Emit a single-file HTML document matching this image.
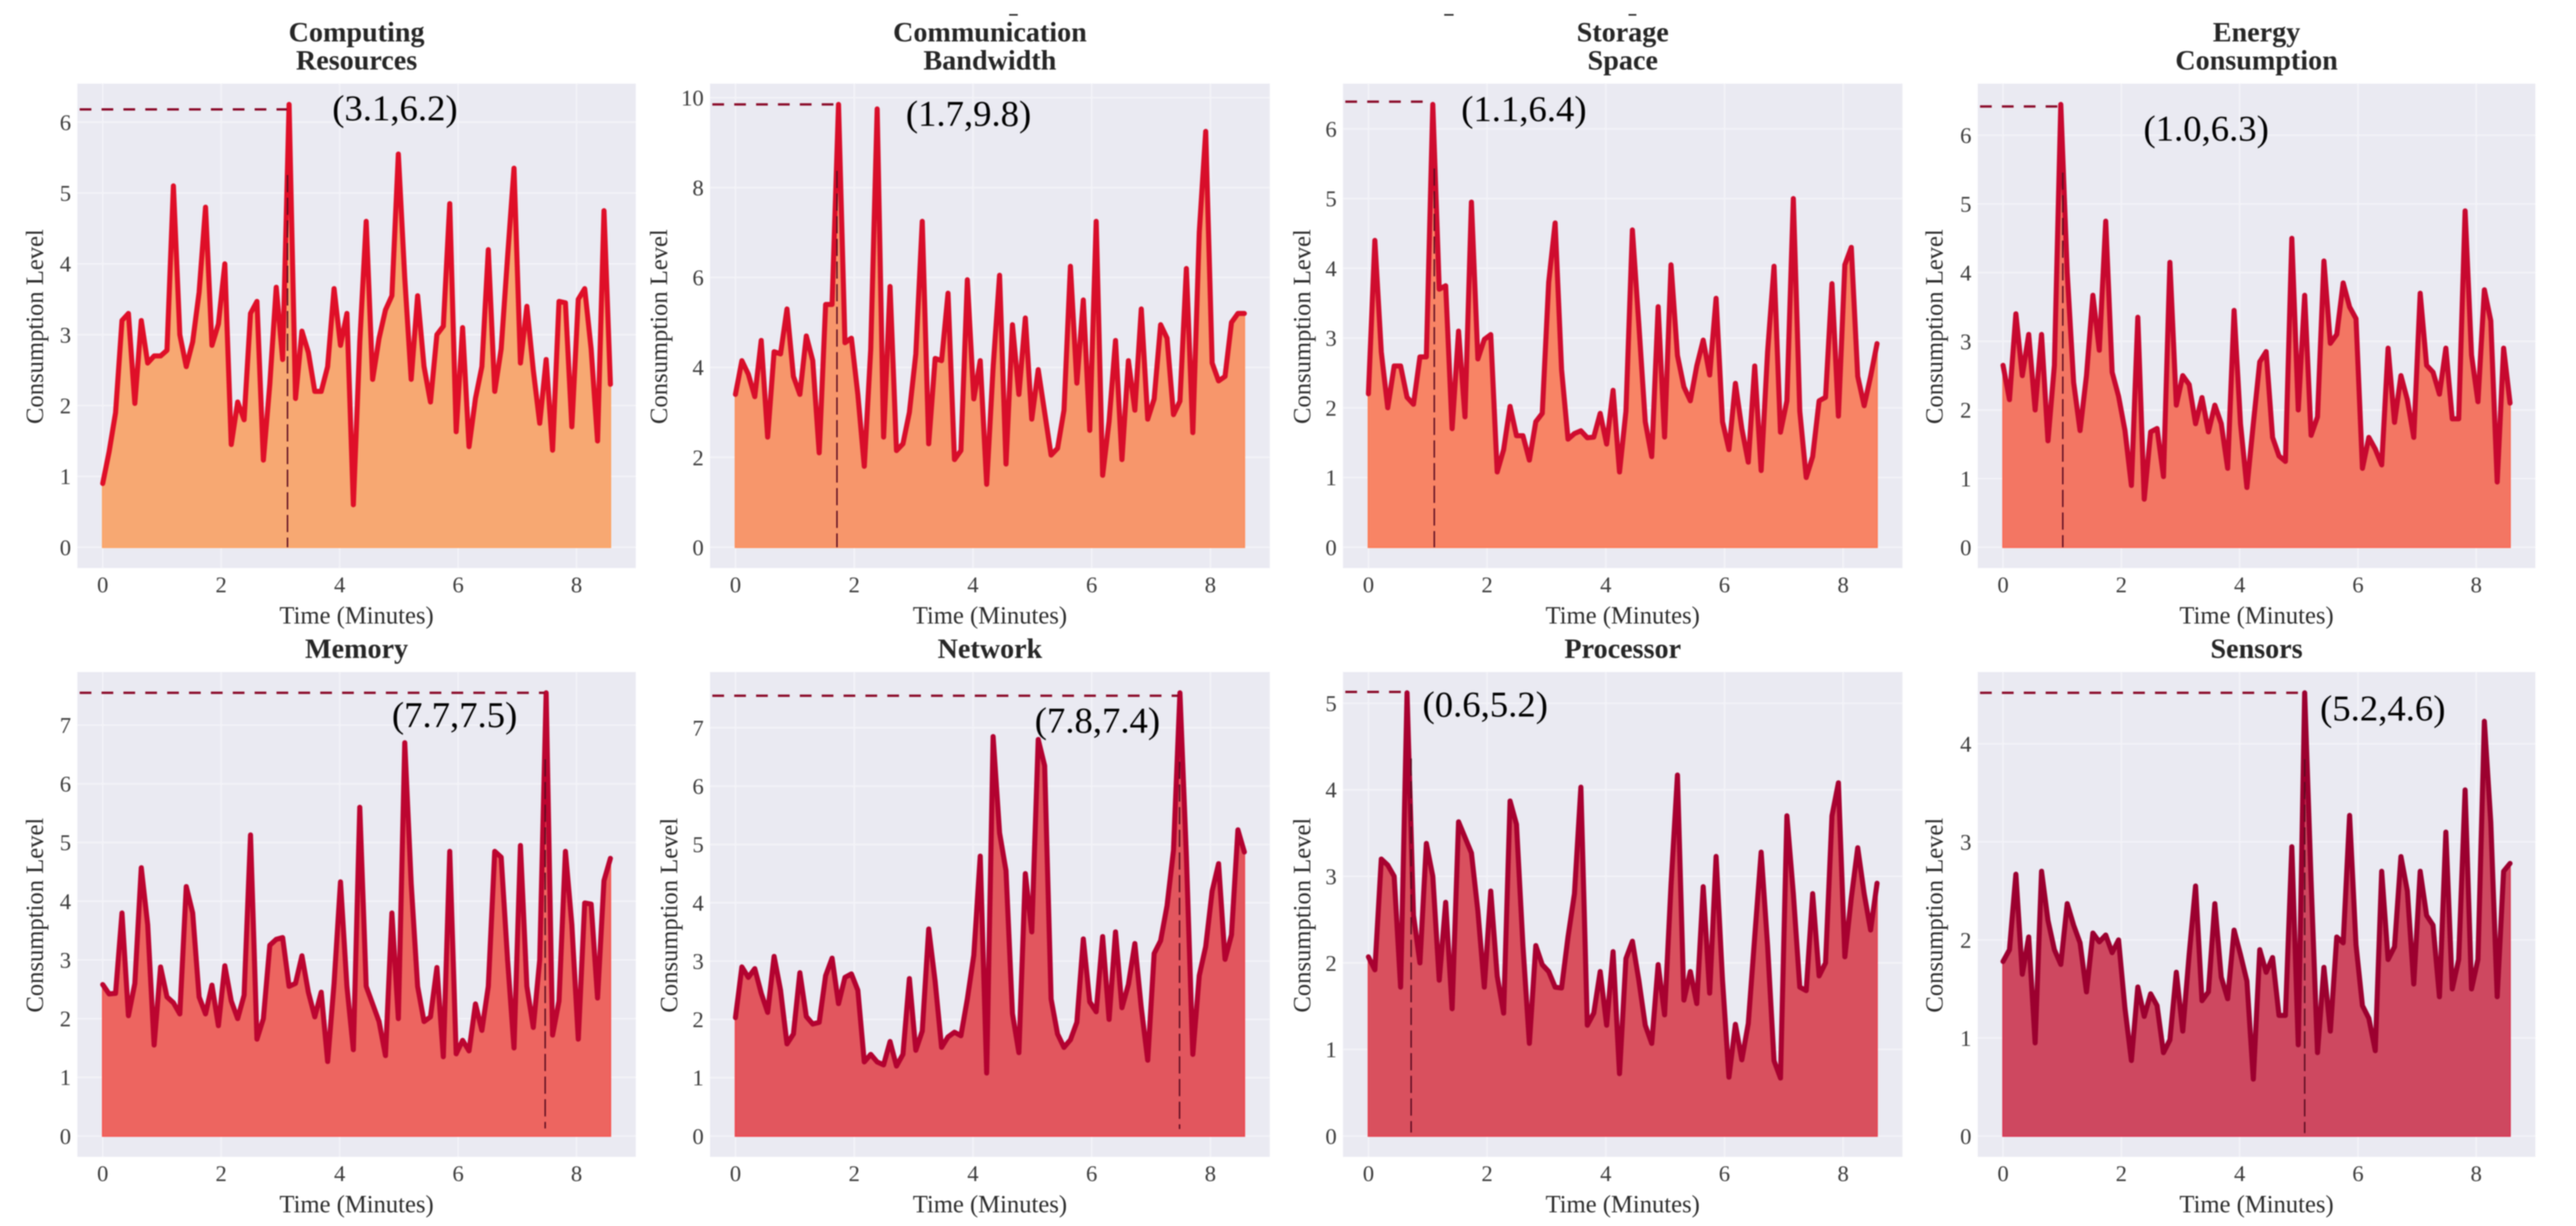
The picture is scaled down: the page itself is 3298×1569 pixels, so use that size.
<!DOCTYPE html>
<html lang="en">
<head>
<meta charset="utf-8">
<title>Resource Consumption Over Time</title>
<style>
  html, body { margin: 0; padding: 0; background: #ffffff; }
  #figure { display: block; width: 3298px; height: 1569px; filter: blur(0.8px); }
  text { font-family: "Liberation Serif", serif; }
</style>
</head>
<body>
<svg id="figure" xmlns="http://www.w3.org/2000/svg" width="3298" height="1569" viewBox="0 0 3298 1569">
  <rect x="0" y="0" width="3298" height="1569" fill="#ffffff"/>
  <rect x="1292" y="18" width="11" height="2" fill="#222"/>
  <rect x="1849" y="18" width="12" height="2" fill="#222"/>
  <rect x="2085" y="18" width="10" height="2" fill="#222"/>
</svg>
<script>
// ---- chart data ----
const sampleSpacingMinutes = 0.1085;
const timeTicks = [0, 2, 4, 6, 8];

const computingValues = [0.9,1.35,1.9,3.2,3.3,2.03,3.2,2.6,2.7,2.7,2.78,5.1,3.0,2.55,2.9,3.6,4.8,2.85,3.15,4.0,1.45,2.05,1.8,3.3,3.47,1.23,2.3,3.67,2.65,6.25,2.1,3.05,2.75,2.2,2.2,2.55,3.65,2.85,3.3,0.6,2.9,4.6,2.37,2.95,3.35,3.55,5.55,3.8,2.37,3.55,2.55,2.05,3.0,3.12,4.85,1.63,3.1,1.42,2.1,2.55,4.2,2.2,2.8,4.1,5.35,2.6,3.4,2.5,1.75,2.65,1.37,3.47,3.45,1.7,3.5,3.65,2.8,1.5,4.75,2.3];
const bandwidthValues = [3.4,4.15,3.85,3.35,4.6,2.45,4.35,4.3,5.3,3.8,3.4,4.7,4.15,2.1,5.4,5.4,9.85,4.55,4.65,3.4,1.8,4.4,9.75,2.45,5.8,2.15,2.3,3.0,4.3,7.25,2.3,4.2,4.15,5.65,1.95,2.15,5.95,3.3,4.15,1.4,4.0,6.05,1.85,4.95,3.4,5.1,2.85,3.95,3.0,2.05,2.2,3.05,6.25,3.65,5.5,2.6,7.25,1.6,2.8,4.6,1.95,4.15,3.05,5.3,2.85,3.3,4.95,4.65,2.95,3.25,6.2,2.55,7.0,9.25,4.1,3.7,3.8,5.0,5.2,5.2];
const storageValues = [2.2,4.4,2.8,2.0,2.6,2.6,2.15,2.05,2.73,2.73,6.35,3.7,3.75,1.7,3.1,1.87,4.95,2.7,2.98,3.05,1.08,1.4,2.02,1.6,1.6,1.25,1.8,1.92,3.8,4.65,2.55,1.55,1.63,1.67,1.57,1.58,1.92,1.48,2.25,1.08,1.95,4.55,3.2,1.8,1.3,3.45,1.58,4.05,2.75,2.3,2.1,2.6,2.97,2.47,3.57,1.8,1.4,2.35,1.7,1.22,2.6,1.1,2.8,4.03,1.65,2.1,5.0,1.95,1.0,1.3,2.1,2.15,3.78,1.88,4.05,4.3,2.45,2.03,2.45,2.92];
const energyValues = [2.65,2.15,3.4,2.5,3.1,2.0,3.1,1.55,2.65,6.45,4.0,2.4,1.7,2.5,3.67,2.87,4.75,2.55,2.2,1.7,0.9,3.35,0.7,1.68,1.73,1.03,4.15,2.07,2.5,2.37,1.8,2.18,1.68,2.07,1.8,1.15,3.45,1.8,0.87,1.8,2.7,2.85,1.6,1.33,1.25,4.5,2.0,3.67,1.63,1.9,4.17,2.97,3.1,3.85,3.5,3.33,1.15,1.6,1.43,1.2,2.9,1.82,2.5,2.15,1.6,3.7,2.65,2.55,2.23,2.9,1.87,1.87,4.9,2.8,2.12,3.75,3.3,0.95,2.9,2.1];
const memoryValues = [2.58,2.42,2.43,3.8,2.05,2.6,4.57,3.6,1.55,2.88,2.37,2.27,2.08,4.25,3.8,2.37,2.08,2.57,1.88,2.9,2.3,2.0,2.4,5.13,1.65,2.0,3.25,3.35,3.38,2.55,2.6,3.07,2.45,2.03,2.45,1.27,2.6,4.33,2.55,1.47,5.6,2.55,2.25,1.95,1.37,3.8,2.0,6.7,4.3,2.55,1.95,2.03,2.87,1.35,4.85,1.4,1.63,1.45,2.25,1.8,2.55,4.85,4.75,3.0,1.5,4.95,2.55,1.85,3.0,7.55,1.72,2.3,4.85,3.6,1.65,3.97,3.95,2.35,4.35,4.73];
const networkValues = [2.03,2.9,2.72,2.87,2.45,2.12,3.08,2.5,1.58,1.75,2.8,2.05,1.92,1.95,2.75,3.05,2.27,2.72,2.78,2.5,1.27,1.4,1.27,1.22,1.62,1.2,1.4,2.7,1.47,1.8,3.55,2.65,1.52,1.7,1.78,1.72,2.35,3.1,4.8,1.08,6.85,5.2,4.55,2.1,1.43,4.5,3.5,6.8,6.35,2.35,1.75,1.52,1.65,1.95,3.38,2.3,2.13,3.42,2.0,3.5,2.2,2.6,3.3,2.2,1.3,3.13,3.35,3.95,4.9,7.6,4.8,1.4,2.75,3.25,4.2,4.67,3.03,3.45,5.25,4.87];
const processorValues = [2.07,1.92,3.2,3.13,3.0,1.72,5.12,2.55,2.0,3.38,3.0,1.8,2.7,1.47,3.63,3.45,3.27,2.6,1.72,2.83,1.85,1.42,3.87,3.6,2.2,1.07,2.2,1.98,1.9,1.72,1.71,2.3,2.8,4.03,1.28,1.42,1.9,1.28,2.13,0.72,2.05,2.25,1.8,1.28,1.07,1.98,1.4,2.9,4.17,1.57,1.9,1.53,2.88,1.65,3.23,1.8,0.68,1.29,0.88,1.3,2.3,3.28,2.2,0.87,0.67,3.7,2.8,1.72,1.68,2.8,1.85,2.0,3.7,4.08,2.07,2.75,3.33,2.8,2.38,2.92];
const sensorValues = [1.78,1.9,2.67,1.65,2.03,0.95,2.7,2.2,1.9,1.75,2.37,2.15,1.97,1.47,2.07,1.98,2.05,1.87,2.0,1.3,0.77,1.52,1.22,1.45,1.33,0.85,0.98,1.67,1.07,1.85,2.55,1.38,1.47,2.37,1.62,1.4,2.1,1.85,1.58,0.58,1.9,1.67,1.82,1.23,1.23,2.95,0.93,4.52,2.6,0.85,1.72,1.07,2.03,1.97,3.27,1.95,1.33,1.2,0.87,2.7,1.8,1.93,2.85,2.5,1.55,2.7,2.25,2.15,1.42,3.1,1.5,1.8,3.53,1.5,1.8,4.23,3.2,1.42,2.7,2.78];

const panelTitles = [["Computing","Resources"],["Communication","Bandwidth"],["Storage","Space"],["Energy","Consumption"],["Memory"],["Network"],["Processor"],["Sensors"]];
const panelSeries = [computingValues,bandwidthValues,storageValues,energyValues,memoryValues,networkValues,processorValues,sensorValues];
const consumptionTicks = [[0,1,2,3,4,5,6],[0,2,4,6,8,10],[0,1,2,3,4,5,6],[0,1,2,3,4,5,6],[0,1,2,3,4,5,6,7],[0,1,2,3,4,5,6,7],[0,1,2,3,4,5],[0,1,2,3,4]];
const peakLabels = ["(3.1,6.2)","(1.7,9.8)","(1.1,6.4)","(1.0,6.3)","(7.7,7.5)","(7.8,7.4)","(0.6,5.2)","(5.2,4.6)"];
const peakGuideTimes = [3.12,1.71,1.11,1.01,7.47,7.48,0.72,5.1];
const peakGuideLevels = [6.18,9.85,6.39,6.42,7.55,7.55,5.13,4.52];
const peakGuideEndTimes = [3.11,1.675,0.99,0.94,7.46,7.46,0.63,5.06];
const peakGuideFloors = [0,0,0,0,0.13,0.12,0.04,0.03];

// ---- layout and style (not data) ----
const plotLefts = [99,909,1719.4,2532,99,909,1719.4,2532];
const plotRights = [814,1625.7,2435.7,3246,814,1625.7,2435.7,3246];
const rowTops = [107,107,107,107,860,860,860,860];
const rowBottoms = [727,727,727,727,1480.5,1480.5,1480.5,1480.5];
const yTitleGaps = [55,66,53,56,55,53,53,56];
const fillColors = ["#f7a872","#f7966b","#f88465","#f37663","#ed6560","#e2565e","#d9505e","#ce4860"];
const edgeColors = ["#fba568","#fb9160","#fb7c58","#f96c58","#f45a55","#ec4a52","#e34553","#d83a56"];
const lineColors = ["#df0f28","#d80e2a","#cf0c2e","#c7082f","#bc0530","#b30230","#a80130","#9c002f"];
const labelCentersX = [505.6,1240,1951,2824.5,582,1405,1901.5,3050.6];
const labelBaselines = [154,161,155,180,930.6,937.5,917,922];
const yMargin = 0.047;

const SVG_NS = "http://www.w3.org/2000/svg";
const figure = document.getElementById("figure");

function make(tag, attrs, parent, content) {
  const el = document.createElementNS(SVG_NS, tag);
  for (const key in attrs) el.setAttribute(key, attrs[key]);
  if (content !== undefined) el.textContent = content;
  parent.appendChild(el);
  return el;
}

function linearScale(domainMin, domainMax, rangeMin, rangeMax) {
  return function (v) {
    return rangeMin + (v - domainMin) / (domainMax - domainMin) * (rangeMax - rangeMin);
  };
}

panelSeries.forEach(function (values, p) {
  const left = plotLefts[p], right = plotRights[p], top = rowTops[p], bottom = rowBottoms[p];
  const times = values.map(function (_, i) { return i * sampleSpacingMinutes; });
  const timeMax = times[times.length - 1];
  const levelMax = Math.max.apply(null, values);
  const xScale = linearScale(-0.05 * timeMax, 1.05 * timeMax, left, right);
  const yScale = linearScale(-yMargin * levelMax, (1 + yMargin) * levelMax, bottom, top);
  const centerX = (left + right) / 2;

  const panel = make("g", {}, figure);
  
  

  const plotBg = make("rect", { x: left, y: top, width: right - left, height: bottom - top, fill: "#eaeaf2" }, panel);
  
  

  timeTicks.forEach(function (t) {
    const grid = make("line", { x1: xScale(t), x2: xScale(t), y1: top, y2: bottom, stroke: "#f3f3f8", "stroke-width": 2 }, panel);
    
    
    const label = make("text", { x: xScale(t), y: bottom + 31, "text-anchor": "middle", "font-size": 29, fill: "#3c3c3c" }, panel, String(t));
    
    
  });

  consumptionTicks[p].forEach(function (v) {
    const grid = make("line", { x1: left, x2: right, y1: yScale(v), y2: yScale(v), stroke: "#f3f3f8", "stroke-width": 2 }, panel);
    
    
    const label = make("text", { x: left - 8, y: yScale(v) + 10, "text-anchor": "end", "font-size": 29, fill: "#3c3c3c" }, panel, String(v));
    
    
  });

  const points = values.map(function (v, i) { return xScale(times[i]).toFixed(2) + "," + yScale(v).toFixed(2); });
  const areaPoints = [xScale(0).toFixed(2) + "," + yScale(0).toFixed(2)].concat(points, [xScale(timeMax).toFixed(2) + "," + yScale(0).toFixed(2)]);

  const area = make("polygon", { points: areaPoints.join(" "), fill: fillColors[p], stroke: edgeColors[p], "stroke-width": 2 }, panel);
  
  

  const line = make("polyline", { points: points.join(" "), fill: "none", stroke: lineColors[p], "stroke-width": 6.5, "stroke-linejoin": "round", "stroke-linecap": "round" }, panel);
  
  

  const hGuide = make("line", { x1: left + 3, x2: xScale(peakGuideEndTimes[p]), y1: yScale(peakGuideLevels[p]), y2: yScale(peakGuideLevels[p]), stroke: "#8a0a28", "stroke-width": 3, "stroke-dasharray": "15 13" }, panel);
  
  

  const vGuide = make("line", { x1: xScale(peakGuideTimes[p]), x2: xScale(peakGuideTimes[p]), y1: yScale(peakGuideLevels[p] * 0.85), y2: yScale(peakGuideFloors[p]), stroke: "#5a0a20", "stroke-width": 1.8, "stroke-dasharray": "22 7" }, panel);
  
  

  const peakLabel = make("text", { x: labelCentersX[p], y: labelBaselines[p], "text-anchor": "middle", "font-size": 47, fill: "#000000" }, panel, peakLabels[p]);
  
  

  const titleLines = panelTitles[p];
  titleLines.forEach(function (t, i) {
    const baseline = titleLines.length === 2 ? 53 + i * 36 : top - 18;
    const title = make("text", { x: centerX, y: baseline, "text-anchor": "middle", "font-size": 36, "font-weight": "bold", fill: "#262626" }, panel, t);
    
    
  });

  const xTitle = make("text", { x: centerX, y: bottom + 71, "text-anchor": "middle", "font-size": 31.5, fill: "#2c2c2c" }, panel, "Time (Minutes)");
  
  

  const yTitleX = left - yTitleGaps[p] + 11;
  const yTitleY = (top + bottom) / 2 + 1;
  const yTitle = make("text", { x: yTitleX, y: yTitleY, "text-anchor": "middle", "font-size": 31.5, fill: "#2c2c2c", transform: "rotate(-90 " + yTitleX + " " + yTitleY + ")" }, panel, "Consumption Level");
  
  
});
</script>
</body>
</html>
